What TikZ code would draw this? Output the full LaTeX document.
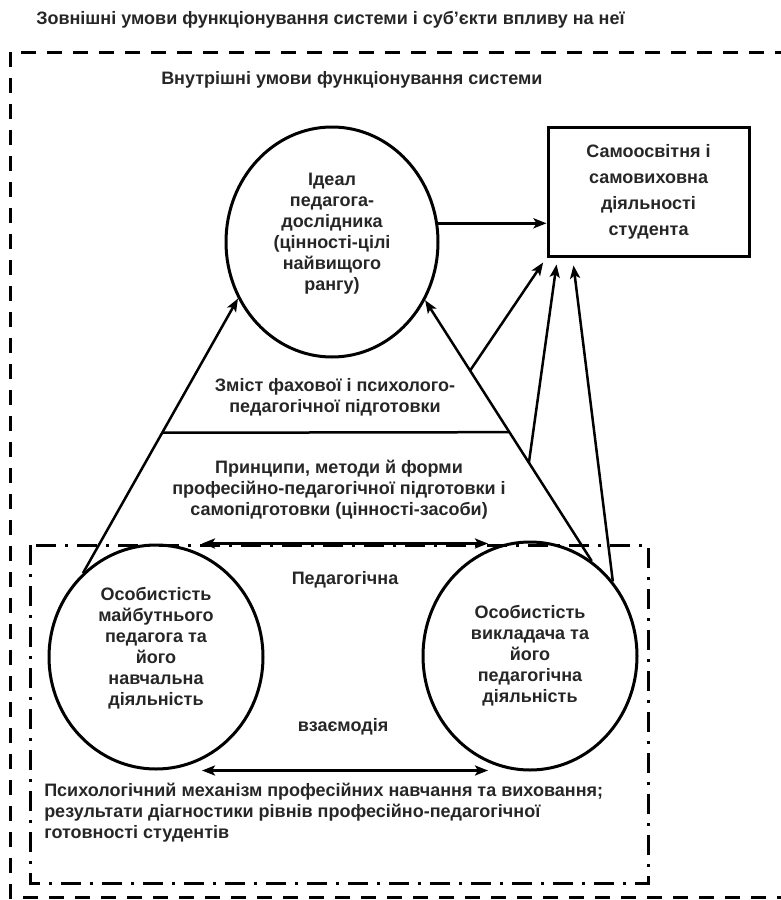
\documentclass[tikz,border=0pt]{standalone}
\usepackage{fontspec}
\setmainfont{Liberation Sans}
\usetikzlibrary{arrows.meta,shapes.geometric,calc}
\definecolor{ink}{HTML}{262626}

\begin{document}
\begin{tikzpicture}[x=1pt,y=-1pt,>={Stealth[length=13pt,width=10pt,inset=3pt]},
                    line width=2.5pt,font=\fontsize{18}{21}\selectfont\bfseries,text=ink]
  \tikzset{
    circ/.style={ellipse, draw, line width=3pt, inner sep=0pt, align=center},
    txt/.style={align=center, inner sep=0pt},
    link/.style={->, line width=2.5pt},
  }
  \useasboundingbox (0,0) rectangle (780,900);

  % borders of the system
  \draw[line width=3pt, dash pattern=on 15pt off 11pt] (790,52) -- (10,52) -- (10,897) -- (790,897);
  \draw[line width=3pt, dash pattern=on 20pt off 9pt on 3pt off 9pt] (30,545) rectangle (648,883);

  \node[txt, anchor=west] (outer) at (35,20) {Зовнішні умови функціонування системи і суб’єкти впливу на неї};
  \node[txt, anchor=west] (inner) at (160,80) {Внутрішні умови функціонування системи};

  \node[circ, minimum width=212pt, minimum height=230pt] (ideal) at (332,242)
    {Ідеал\\педагога-\\дослідника\\(цінності-цілі\\найвищого\\рангу)\\~};
  \node[draw, line width=3pt, minimum width=201pt, minimum height=129pt, align=center,
        font=\fontsize{18}{26}\selectfont\bfseries] (self) at (648.5,191.5)
    {Самоосвітня і\\самовиховна\\діяльності\\студента};
  \node[circ, minimum width=214pt, minimum height=224pt] (student) at (156,657)
    {Особистість\\майбутнього\\педагога та\\його\\навчальна\\діяльність\\~};
  \node[circ, minimum width=214pt, minimum height=228pt] (teacher) at (530,656)
    {Особистість\\викладача та\\його\\педагогічна\\діяльність};

  \draw[link] (self.west |- ideal.10) ++(-110,0) coordinate (ia) -- (ia -| self.west);
  \draw[link] (student.131) -- coordinate[pos=0.511] (lcut) (ideal.211);
  \draw[link] (teacher.57) -- coordinate[pos=0.494] (rcut) coordinate[pos=0.377] (rlow)
    coordinate[pos=0.73] (rhigh) (ideal.328);
  \draw (lcut) -- (rcut);

  \draw[link, shorten >=6pt] (rhigh) -- (self.south west);
  \draw[link, shorten >=7pt] (rlow) -- ($(self.south west)+(11,0)$);
  \draw[link, shorten >=8pt] (teacher.42) -- ($(self.south west)+(26,0)$);

  \draw[<->] ($(student.north)+(46,0)$) -- ($(student.north -| teacher.north)+(-42,0)$);
  \draw[<->] ($(student.south)+(46,0)$) -- ($(student.south -| teacher.south)+(-42,0)$);

  \node[txt] (zmist) at (335,397) {Зміст фахової і психолого-\\педагогічної підготовки};
  \node[txt] (pryn) at (339,490)
    {Принципи, методи й форми\\професійно-педагогічної підготовки і\\самопідготовки (цінності-засоби)};
  \node[txt] (ped) at (345,580) {Педагогічна};
  \node[txt] (vz) at (343,727) {взаємодія};
  \node[txt, anchor=north west, align=left] (mech) at (43,782)
    {Психологічний механізм професійних навчання та виховання;\\результати діагностики рівнів професійно-педагогічної\\готовності студентів};
\end{tikzpicture}
\end{document}
